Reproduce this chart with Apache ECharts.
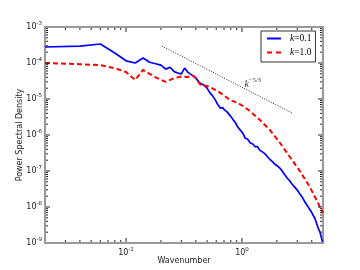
<!DOCTYPE html>
<html><head><meta charset="utf-8">
<script src="https://cdn.jsdelivr.net/npm/echarts@6/dist/echarts.min.js"></script>
<style>html,body{margin:0;padding:0;background:#fff}#c{width:360px;height:270px}</style>
</head><body><div id="c"></div>
<script>
// wavenumbers and PSD values
const blueK = [0.02,0.04,0.06,0.08,0.10,0.12,0.14,0.16,0.18,0.20,0.22,0.24,0.26,0.28,0.30,0.32,0.34,0.36,0.38,0.40,0.43,0.46,0.48,0.50,0.53,0.56,0.59,0.62,0.65,0.68,0.71,0.74,0.76,0.80,0.84,0.88,0.92,0.96,1.00,1.03,1.06,1.12,1.18,1.24,1.27,1.30,1.36,1.42,1.50,1.58,1.64,1.72,1.80,1.86,1.94,2.02,2.12,2.20,2.30,2.37,2.44,2.56,2.70,2.84,3.00,3.08,3.16,3.30,3.46,3.62,3.80,3.96,4.10,4.26,4.40,4.56,4.70,4.84,4.96];
const blueP = [2.78e-4,2.96e-4,3.37e-4,1.9e-4,1.15e-4,1.0e-4,1.38e-4,1.05e-4,9.55e-5,8.7e-5,6.76e-5,7.6e-5,5.75e-5,5.25e-5,5.0e-5,7.24e-5,5.6e-5,4.9e-5,4.37e-5,3.8e-5,2.82e-5,2.51e-5,2.29e-5,2.0e-5,1.48e-5,1.2e-5,9.3e-6,6.9e-6,5.6e-6,5.75e-6,4.9e-6,4.47e-6,4.07e-6,3.3e-6,2.63e-6,2.19e-6,1.66e-6,1.41e-6,1.2e-6,1.05e-6,8.3e-7,7.6e-7,6.0e-7,5.6e-7,6.2e-7,4.7e-7,4.8e-7,3.8e-7,3.4e-7,3.0e-7,2.75e-7,2.19e-7,1.9e-7,1.78e-7,1.51e-7,1.38e-7,1.2e-7,1.05e-7,8.5e-8,8.9e-8,6.5e-8,5.5e-8,4.37e-8,3.63e-8,2.95e-8,2.7e-8,2.29e-8,1.9e-8,1.45e-8,1.15e-8,9.1e-9,7.4e-9,6.0e-9,4.8e-9,3.55e-9,2.5e-9,2.04e-9,1.41e-9,1.07e-9];
const redK = [0.02,0.04,0.06,0.08,0.10,0.12,0.14,0.16,0.18,0.20,0.22,0.26,0.30,0.34,0.38,0.40,0.44,0.50,0.53,0.60,0.65,0.72,0.79,0.92,1.05,1.17,1.43,1.74,2.13,2.59,3.16,3.85,4.50,5.0];
const redP = [1.0e-4,9.3e-5,8.7e-5,7.2e-5,5.6e-5,3.4e-5,6.4e-5,5.0e-5,4.0e-5,3.4e-5,3.0e-5,3.8e-5,4.2e-5,4.1e-5,4.4e-5,3.8e-5,2.45e-5,2.3e-5,2.14e-5,1.74e-5,1.48e-5,1.17e-5,9.3e-6,7.8e-6,6.0e-6,4.64e-6,2.61e-6,1.38e-6,6.0e-7,2.45e-7,1.0e-7,3.6e-8,1.35e-8,6.8e-9];
const refK = [0.204, 2.7];
const refP = [2.95e-4, 4.1e-6];
const refLabelPos = [1.24, 2.6e-5];
const seriesNames = ['k=0.1', 'k=1.0'];
const xMajorTicks = [0.1, 1];
const xMinorTicks = [0.03,0.04,0.05,0.06,0.07,0.08,0.09,0.2,0.3,0.4,0.5,0.6,0.7,0.8,0.9,2,3,4];
const yMajorTicks = [1e-8,1e-7,1e-6,1e-5,1e-4];
const yMinorMult = [2,3,4,5,6,7,8,9];
const yDecades = [1e-9,1e-8,1e-7,1e-6,1e-5,1e-4];
const X_MIN = 0.02, X_MAX = 5, Y_MIN = 1e-9, Y_MAX = 1e-3;

const yMinorTicks = [];
yDecades.forEach(d => yMinorMult.forEach(m => yMinorTicks.push(d * m)));

function expLabel(v) {
  const e = Math.log10(v);
  const r = Math.round(e);
  if (Math.abs(e - r) > 1e-6) return '';
  return '{b|10}{s|' + r + '}';
}
const labelRich = {
  b: {fontSize: 8, color: '#222', fontFamily: 'DejaVu Sans'},
  s: {fontSize: 5.5, color: '#222', fontFamily: 'DejaVu Sans', padding: [0, 0, 6, 0]}
};

const xTickData = xMajorTicks.map(v => [v, Y_MIN, 4]).concat(xMinorTicks.map(v => [v, Y_MIN, 2]));
const yTickData = yMajorTicks.map(v => [X_MIN, v, 4]).concat(yMinorTicks.map(v => [X_MIN, v, 2]));

const chart = echarts.init(document.getElementById('c'), null, {renderer: 'canvas'});
chart.setOption({
  animation: false,
  backgroundColor: '#fff',
  grid: {left: 45, right: 37, top: 27, bottom: 27, show: true, borderColor: '#999', borderWidth: 2, backgroundColor: 'transparent'},
  xAxis: {
    type: 'log', logBase: 10, min: X_MIN, max: X_MAX,
    axisLine: {show: false}, axisTick: {show: false}, splitLine: {show: false},
    axisLabel: {formatter: expLabel, rich: labelRich, margin: 4, showMinLabel: false, showMaxLabel: false},
    name: 'Wavenumber', nameLocation: 'middle', nameGap: 14, nameMoveOverlap: false,
    nameTextStyle: {fontSize: 8, color: '#222', fontFamily: 'DejaVu Sans'}
  },
  yAxis: {
    type: 'log', logBase: 10, min: Y_MIN, max: Y_MAX, splitNumber: 6,
    axisLine: {show: false}, axisTick: {show: false}, splitLine: {show: false},
    axisLabel: {formatter: expLabel, rich: labelRich, margin: 3},
    name: 'Power Spectral Density', nameLocation: 'middle', nameGap: 21, nameRotate: 90, nameMoveOverlap: false,
    nameTextStyle: {fontSize: 8, color: '#222', fontFamily: 'DejaVu Sans'}
  },
  legend: {
    left: 261, top: 31, orient: 'vertical',
    backgroundColor: '#fff', borderColor: '#333', borderWidth: 1, borderRadius: 0,
    padding: [2, 4, 4, 6], itemGap: 3, itemWidth: 14, itemHeight: 2,
    data: [
      {name: seriesNames[0], icon: 'path://M0,0h14v2h-14z'},
      {name: seriesNames[1], icon: 'path://M0,0h5v2h-5zM9,0h5v2h-5z'}
    ],
    formatter: n => '{i|k}{n|=' + n.split('=')[1] + '}',
    textStyle: {
      padding: [0, 0, 0, 4], lineHeight: 11,
      rich: {
        i: {fontSize: 9.5, fontStyle: 'italic', fontFamily: 'Liberation Serif', color: '#000', lineHeight: 11},
        n: {fontSize: 9.5, fontFamily: 'Liberation Serif', color: '#000', lineHeight: 11}
      }
    }
  },
  series: [
    {
      name: seriesNames[0], type: 'line', showSymbol: false, symbol: 'none',
      data: blueK.map((k, i) => [k, blueP[i]]),
      lineStyle: {color: '#0000ff', width: 1.7}, itemStyle: {color: '#0000ff'}, z: 3
    },
    {
      name: seriesNames[1], type: 'line', showSymbol: false, symbol: 'none',
      data: redK.map((k, i) => [k, redP[i]]),
      lineStyle: {color: '#ff0000', width: 2, type: [5, 3]}, itemStyle: {color: '#ff0000'}, z: 4
    },
    {
      name: 'ref', type: 'line', showSymbol: false, symbol: 'none',
      data: refK.map((k, i) => [k, refP[i]]),
      lineStyle: {color: '#222', width: 1, type: [1, 1.5]}, z: 2
    },
    {
      name: 'refLabel', type: 'scatter', symbolSize: 0,
      data: [refLabelPos],
      label: {
        show: true, position: 'inside',
        formatter: '{i|k}{s|\u22125/3}',
        rich: {
          i: {fontSize: 10, fontStyle: 'italic', fontFamily: 'Liberation Serif', color: '#000'},
          s: {fontSize: 6.5, fontFamily: 'Liberation Serif', color: '#000', padding: [0, 0, 7, 0]}
        }
      }
    },
    {
      name: 'xticks', type: 'custom', clip: false, silent: true, z: 10,
      data: xTickData,
      renderItem: (params, api) => {
        const b = api.coord([api.value(0), Y_MIN]);
        const t = api.coord([api.value(0), Y_MAX]);
        const L = api.value(2);
        return {type: 'group', children: [
          {type: 'line', shape: {x1: b[0], y1: b[1] - 1, x2: b[0], y2: b[1] - 1 - L}, style: {stroke: '#222', lineWidth: 1}},
          {type: 'line', shape: {x1: t[0], y1: t[1] + 1, x2: t[0], y2: t[1] + 1 + L}, style: {stroke: '#222', lineWidth: 1}}
        ]};
      }
    },
    {
      name: 'yticks', type: 'custom', clip: false, silent: true, z: 10,
      data: yTickData,
      renderItem: (params, api) => {
        const l = api.coord([X_MIN, api.value(1)]);
        const r = api.coord([X_MAX, api.value(1)]);
        const L = api.value(2);
        return {type: 'group', children: [
          {type: 'line', shape: {x1: l[0] + 1, y1: l[1], x2: l[0] + 1 + L, y2: l[1]}, style: {stroke: '#222', lineWidth: 1}},
          {type: 'line', shape: {x1: r[0] - 1, y1: r[1], x2: r[0] - 1 - L, y2: r[1]}, style: {stroke: '#222', lineWidth: 1}}
        ]};
      }
    }
  ]
});
</script></body></html>
